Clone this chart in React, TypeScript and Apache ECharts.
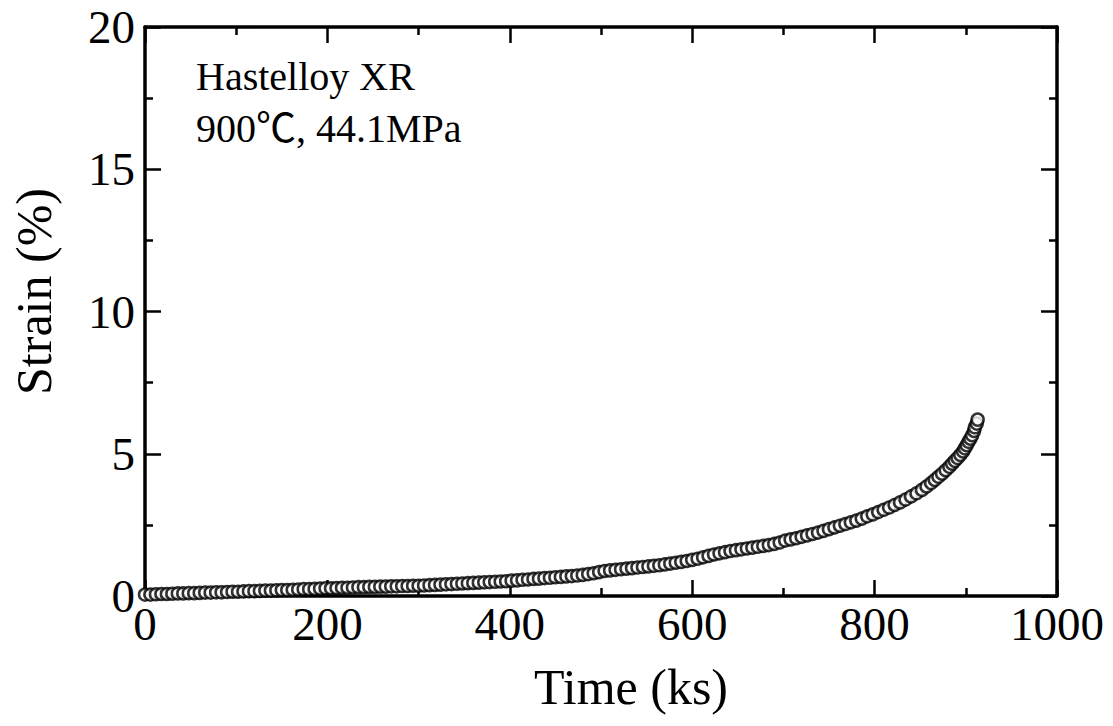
import React, { useEffect, useRef } from "react";
import * as echarts from "echarts";

// Creep curve of Hastelloy XR at 900 °C under 44.1 MPa
const timeKs: number[] = [
  0, 6, 12, 18, 24, 30, 36, 42, 48, 54, 60, 66, 72, 78, 84, 90, 96,
  102, 108, 114, 120, 126, 132, 138, 144, 150, 156, 162, 168, 174, 180, 186, 192, 198,
  204, 210, 216, 222, 228, 234, 240, 246, 252, 258, 264, 270, 276, 282, 288, 294, 300,
  306, 312, 318, 324, 330, 336, 342, 348, 354, 360, 366, 372, 378, 384, 390, 396,
  402, 408, 414, 420, 426, 432, 438, 444, 450, 456, 462, 468, 474, 480, 486, 492, 498,
  504, 510, 516, 522, 528, 534, 540, 546, 552, 558, 564, 570, 576, 582, 588, 594, 600,
  606, 612, 618, 624, 630, 636, 642, 648, 654, 660, 666, 672, 678, 684, 690, 696, 702,
  708, 714, 720, 726, 732, 738, 744, 750, 756, 762, 768, 774, 780, 786, 792, 798,
  804, 810, 816, 822, 828, 834, 840, 846, 852, 857, 862, 866, 870, 874, 878, 882,
  885, 888, 891, 894, 897, 899, 901, 903, 905, 907, 909, 910, 912, 913,
];

const strainPct: number[] = [
  0.05, 0.05, 0.06, 0.07, 0.07, 0.08, 0.09, 0.09, 0.1, 0.1, 0.11, 0.12, 0.12, 0.13, 0.13, 0.14, 0.15,
  0.15, 0.16, 0.17, 0.17, 0.18, 0.19, 0.19, 0.2, 0.21, 0.21, 0.22, 0.23, 0.24, 0.24, 0.25, 0.26, 0.27,
  0.27, 0.28, 0.29, 0.29, 0.3, 0.31, 0.31, 0.32, 0.32, 0.33, 0.33, 0.34, 0.34, 0.35, 0.35, 0.36, 0.36,
  0.37, 0.38, 0.39, 0.4, 0.41, 0.42, 0.43, 0.44, 0.45, 0.46, 0.47, 0.48, 0.49, 0.5, 0.51, 0.52,
  0.54, 0.55, 0.57, 0.58, 0.6, 0.61, 0.63, 0.64, 0.66, 0.67, 0.69, 0.7, 0.72, 0.74, 0.77, 0.8, 0.84,
  0.88, 0.9, 0.92, 0.94, 0.96, 0.98, 1.0, 1.02, 1.04, 1.06, 1.08, 1.11, 1.14, 1.17, 1.2, 1.23, 1.27,
  1.31, 1.36, 1.41, 1.46, 1.5, 1.54, 1.58, 1.61, 1.64, 1.67, 1.7, 1.73, 1.76, 1.79, 1.83, 1.88, 1.95,
  1.99, 2.03, 2.08, 2.13, 2.18, 2.23, 2.29, 2.35, 2.41, 2.47, 2.53, 2.59, 2.65, 2.72, 2.8, 2.87,
  2.95, 3.03, 3.11, 3.2, 3.29, 3.39, 3.5, 3.61, 3.73, 3.85, 3.97, 4.08, 4.19, 4.3, 4.42, 4.54,
  4.65, 4.75, 4.85, 4.96, 5.08, 5.19, 5.3, 5.42, 5.53, 5.65, 5.8, 5.93, 6.06, 6.2,
];

const xTicks = [0, 200, 400, 600, 800, 1000];
const yTicks = [0, 5, 10, 15, 20];

const annotationLines = ["Hastelloy XR", "900℃, 44.1MPa"];

const SERIF = '"Liberation Serif", "Noto Sans CJK JP", serif';

export default function App() {
  const ref = useRef<HTMLDivElement>(null);

  useEffect(() => {
    if (!ref.current) return;
    const chart = echarts.init(ref.current, undefined, { renderer: "svg" });

    const frameLine = {
      show: true,
      onZero: false,
      lineStyle: { color: "#000", width: 3.5 },
    };
    const majorTick = {
      show: true,
      inside: true,
      length: 16,
      lineStyle: { color: "#000", width: 2.5 },
    };
    const minorTick = {
      show: true,
      splitNumber: 2,
      length: 8,
      lineStyle: { color: "#000", width: 2.5 },
    };
    const tickLabel = {
      color: "#000",
      fontFamily: SERIF,
      fontSize: 47,
      lineHeight: 40,
      formatter: (v: number) => String(v),
    };

    const xCommon = {
      type: "value" as const,
      min: xTicks[0],
      max: xTicks[xTicks.length - 1],
      interval: xTicks[1] - xTicks[0],
      axisLine: frameLine,
      axisTick: majorTick,
      minorTick,
      splitLine: { show: false },
    };
    const yCommon = {
      type: "value" as const,
      min: yTicks[0],
      max: yTicks[yTicks.length - 1],
      interval: yTicks[1] - yTicks[0],
      axisLine: frameLine,
      axisTick: majorTick,
      minorTick,
      splitLine: { show: false },
    };

    chart.setOption({
      animation: false,
      backgroundColor: "#fff",
      grid: { left: 145, right: 56, top: 27, bottom: 130, containLabel: false },
      xAxis: [
        {
          ...xCommon,
          position: "bottom",
          name: "Time (ks)",
          nameLocation: "middle",
          nameGap: 66,
          nameTextStyle: {
            color: "#000",
            fontFamily: SERIF,
            fontSize: 50,
            padding: [0, 0, 0, 60],
          },
          axisLabel: { ...tickLabel, margin: 8 },
        },
        {
          ...xCommon,
          position: "top",
          axisLabel: { show: false },
        },
      ],
      yAxis: [
        {
          ...yCommon,
          position: "left",
          name: "Strain (%)",
          nameLocation: "middle",
          nameGap: 86,
          nameRotate: 90,
          nameTextStyle: {
            color: "#000",
            fontFamily: SERIF,
            fontSize: 50,
            padding: [0, 0, 0, 40],
          },
          axisLabel: { ...tickLabel, margin: 10 },
        },
        {
          ...yCommon,
          position: "right",
          axisLabel: { show: false },
        },
      ],
      series: [
        {
          type: "scatter",
          xAxisIndex: 0,
          yAxisIndex: 0,
          data: timeKs.map((t, i) => [t, strainPct[i]]),
          symbol: "circle",
          symbolSize: 12,
          itemStyle: { color: "#fff", borderColor: "#000", borderWidth: 2.5 },
          emphasis: { disabled: true },
        },
      ],
      graphic: annotationLines.map((line, i) => ({
        type: "text",
        left: 196,
        top: 56 + i * 52,
        style: {
          text: line,
          fill: "#000",
          font: `40px ${SERIF}`,
        },
      })),
    });

    return () => chart.dispose();
  }, []);

  return <div ref={ref} style={{ width: 1113, height: 726, margin: -8 }} />;
}
